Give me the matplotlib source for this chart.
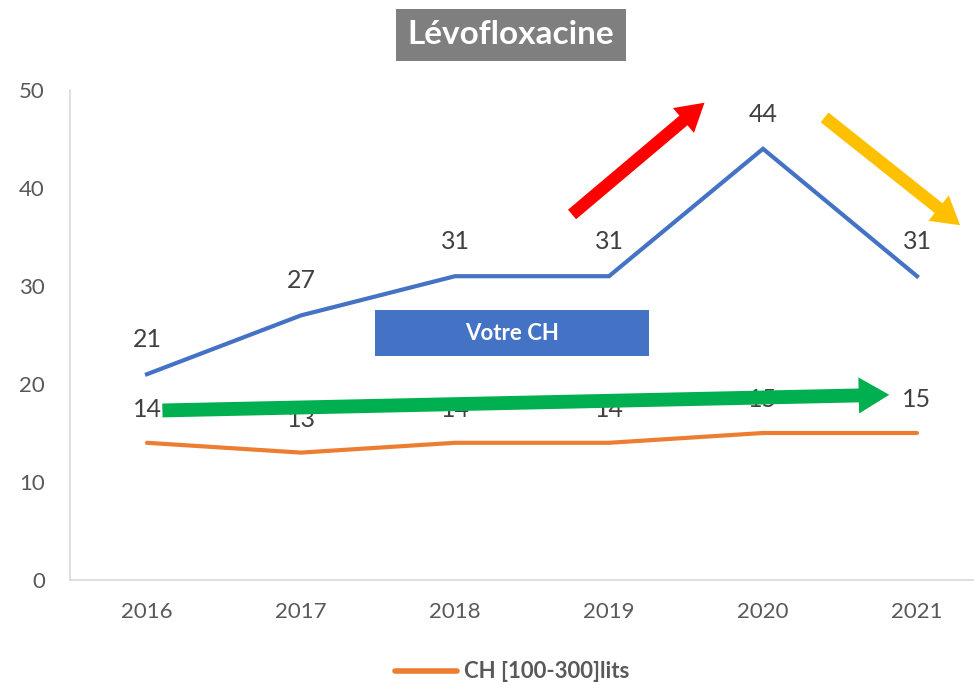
import numpy as np
import matplotlib
matplotlib.use("Agg")
import matplotlib.pyplot as plt
from matplotlib.patches import Rectangle
from matplotlib.lines import Line2D

years = ["2016", "2017", "2018", "2019", "2020", "2021"]
votre_ch = [21, 27, 31, 31, 44, 31]
ch_100_300 = [14, 13, 14, 14, 15, 15]
legend_label = "CH [100-300]lits"
title = "Lévofloxacine"

plt.rcParams["font.family"] = ["Lato", "DejaVu Sans"]

BLUE = "#4472C4"
ORANGE = "#ED7D31"
GREY = "#595959"

fig = plt.figure(figsize=(9.74, 6.85), dpi=100)
ax = fig.add_axes([70 / 974, 105 / 685, 924 / 974, 490 / 685])

x = np.arange(len(years))
ax.plot(x, votre_ch, color=BLUE, lw=3, solid_joinstyle="miter")
ax.plot(x, ch_100_300, color=ORANGE, lw=3, solid_joinstyle="round",
        solid_capstyle="round")

for xi, v in zip(x, votre_ch):
    ax.annotate(str(v), (xi, v), xytext=(0, 25), textcoords="offset points",
                ha="center", va="center", fontsize=18, color="#404040")
for xi, v in zip(x, ch_100_300):
    ax.annotate(str(v), (xi, v), xytext=(0, 24), textcoords="offset points",
                ha="center", va="center", fontsize=18, color="#404040")

ax.set_xlim(-0.5, len(years) - 0.5)
ax.set_ylim(0, 50)
ax.set_yticks(range(0, 51, 10))
ax.set_xticks(x)
ax.set_xticklabels(years)
ax.tick_params(length=0, labelsize=16, colors=GREY)
ax.tick_params(axis="y", pad=18)
ax.tick_params(axis="x", pad=16)
for s in ["top", "right"]:
    ax.spines[s].set_visible(False)
for s in ["left", "bottom"]:
    ax.spines[s].set_color("#D9D9D9")
    ax.spines[s].set_linewidth(1.2)

# trend arrows
ax.annotate("", xy=(4.82, 18.9), xytext=(0.10, 17.3),
            arrowprops=dict(arrowstyle="simple,head_length=1.1,head_width=1.3,tail_width=0.5",
                            mutation_scale=20, color="#00B050", lw=0, shrinkA=0, shrinkB=0))
ax.annotate("", xy=(3.62, 48.7), xytext=(2.76, 37.3),
            arrowprops=dict(arrowstyle="simple,head_length=1.1,head_width=1.3,tail_width=0.5",
                            mutation_scale=18, color="#FF0000", lw=0, shrinkA=0, shrinkB=0))
ax.annotate("", xy=(5.28, 36.2), xytext=(4.40, 47.2),
            arrowprops=dict(arrowstyle="simple,head_length=1.1,head_width=1.3,tail_width=0.5",
                            mutation_scale=18, color="#FFC000", lw=0, shrinkA=0, shrinkB=0))

# "Votre CH" box
ax.add_patch(Rectangle((1.48, 22.9), 1.78, 4.7, facecolor=BLUE, edgecolor="none", zorder=3))
ax.text(2.37, 25.2, "Votre CH", ha="center", va="center", fontsize=16,
        fontweight="bold", color="white", zorder=4)

# title
fig.text(511 / 974, 1 - 35 / 685, title, ha="center", va="center", fontsize=24,
         fontweight="bold", color="white",
         bbox=dict(boxstyle="square,pad=0.35", facecolor="#7F7F7F", edgecolor="none"))

# legend
handle = Line2D([], [], color=ORANGE, lw=4, solid_capstyle="round")
leg = fig.legend([handle], [legend_label], loc="center", bbox_to_anchor=(512 / 974, 1 - 672 / 685),
                 frameon=False, fontsize=16, handlelength=2.8, handletextpad=0.3)
for t in leg.get_texts():
    t.set_color(GREY)
    t.set_fontweight("bold")

fig.savefig("out.png", dpi=100)
